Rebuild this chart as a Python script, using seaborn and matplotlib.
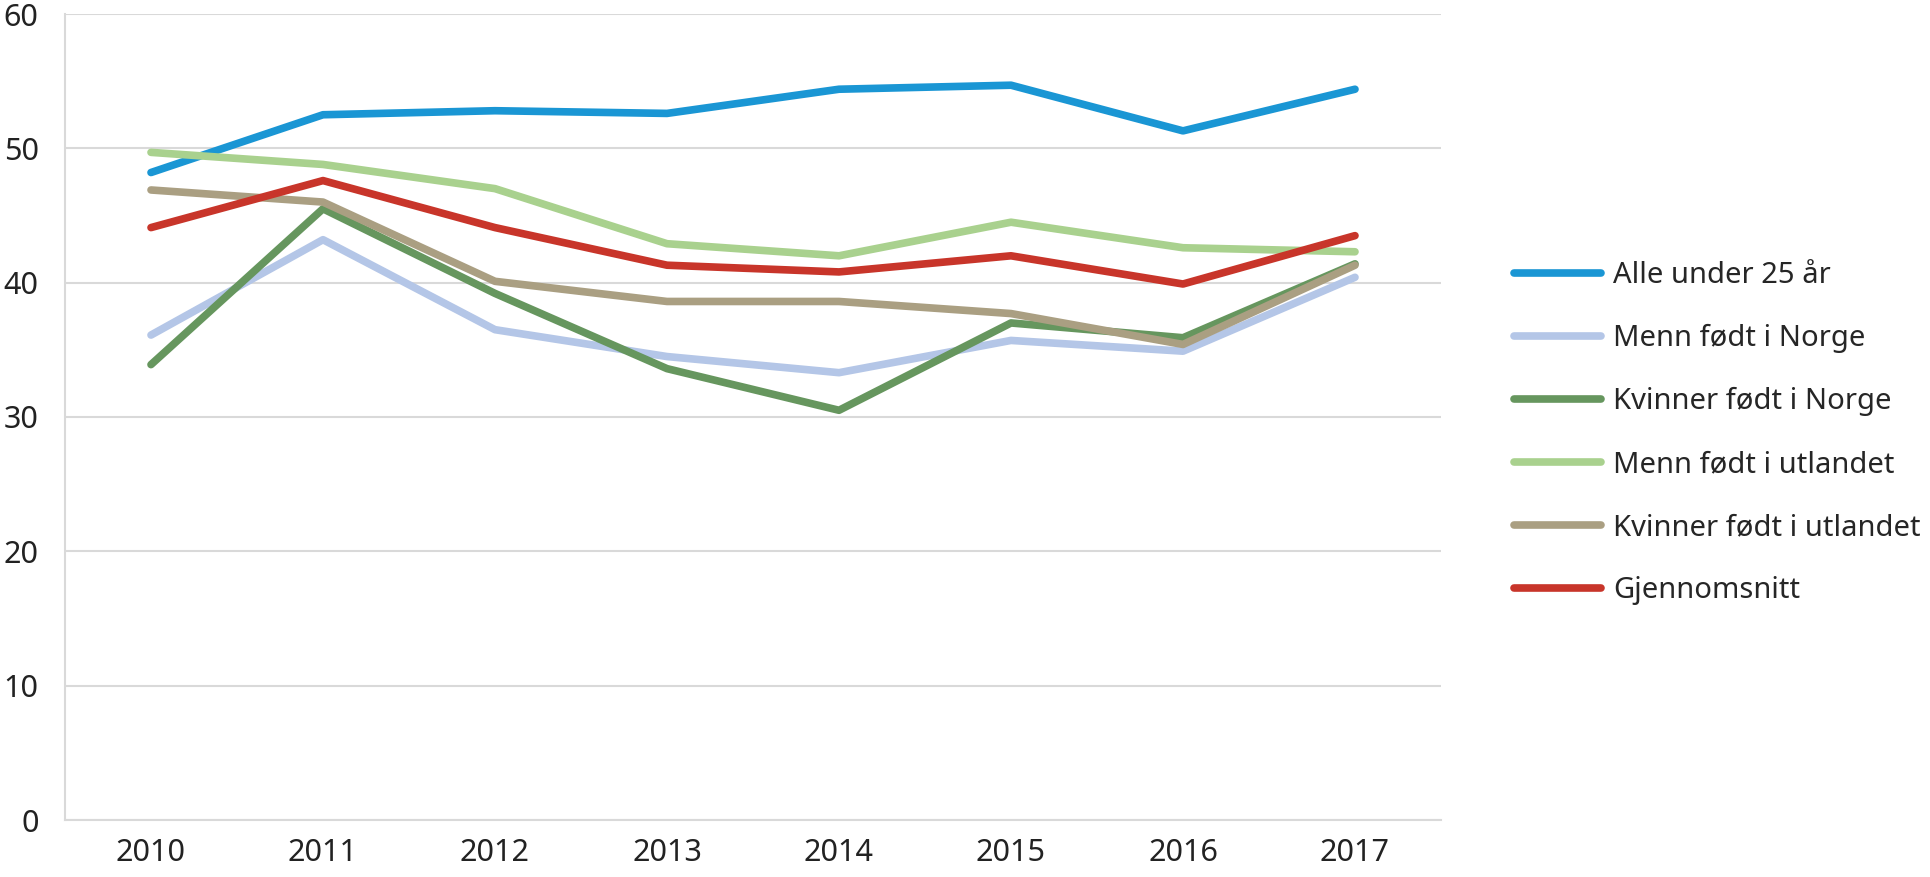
import pandas as pd
import matplotlib
matplotlib.use("Agg")
import matplotlib.pyplot as plt
from matplotlib.ticker import FixedLocator, MultipleLocator
import seaborn as sns

years = ['2010', '2011', '2012', '2013', '2014', '2015', '2016', '2017']
alle_under_25 = [48.2, 52.5, 52.8, 52.6, 54.4, 54.7, 51.3, 54.4]
menn_norge = [36.1, 43.2, 36.5, 34.5, 33.3, 35.7, 34.9, 40.4]
kvinner_norge = [33.9, 45.5, 39.2, 33.6, 30.5, 37.0, 35.9, 41.4]
menn_utland = [49.7, 48.8, 47.0, 42.9, 42.0, 44.5, 42.6, 42.3]
kvinner_utland = [46.9, 46.0, 40.1, 38.6, 38.6, 37.7, 35.4, 41.3]
gjennomsnitt = [44.1, 47.6, 44.1, 41.3, 40.8, 42.0, 39.9, 43.5]

series_names = ['Alle under 25 år', 'Menn født i Norge', 'Kvinner født i Norge',
                'Menn født i utlandet', 'Kvinner født i utlandet', 'Gjennomsnitt']
series_values = [alle_under_25, menn_norge, kvinner_norge,
                 menn_utland, kvinner_utland, gjennomsnitt]
colors = ['#1a96d4', '#b4c6e7', '#66965e', '#a9d18e', '#aa9f82', '#c8352a']

rows = []
for name, vals in zip(series_names, series_values):
    for yr, v in zip(years, vals):
        rows.append({'År': yr, 'Verdi': v, 'Gruppe': name})
df = pd.DataFrame(rows)

sns.set_theme(style="white")
plt.rcParams['font.family'] = ['Noto Sans', 'DejaVu Sans']

fig = plt.figure(figsize=(19.31, 8.77), dpi=100)
ax = fig.add_axes([65 / 1931, 1 - 820 / 877, (1441 - 65) / 1931, (820 - 14) / 877])

sns.lineplot(data=df, x='År', y='Verdi', hue='Gruppe', hue_order=series_names,
             palette=colors, linewidth=5.5, ax=ax, solid_capstyle='round',
             sort=False)

ax.set_xlim(-0.5, len(years) - 0.5)
ax.set_ylim(0, 60)
ax.yaxis.set_major_locator(MultipleLocator(10))
ax.grid(axis='y', color='#d9d9d9', linewidth=1.5)
ax.set_axisbelow(True)
ax.set_xlabel('')
ax.set_ylabel('')

for s in ['top', 'right']:
    ax.spines[s].set_visible(False)
for s in ['left', 'bottom']:
    ax.spines[s].set_color('#d9d9d9')
    ax.spines[s].set_linewidth(1.5)

ax.tick_params(axis='x', which='major', length=0, pad=13, labelsize=22, colors='#222222')
ax.xaxis.set_minor_locator(FixedLocator([i - 0.5 for i in range(len(years) + 1)]))
ax.tick_params(axis='x', which='minor', length=7, width=1.5, color='#d9d9d9', direction='out')
ax.tick_params(axis='y', which='major', length=7, width=1.5, color='#d9d9d9',
               pad=12, labelsize=22, labelcolor='#222222', direction='out')

handles, labels = ax.get_legend_handles_labels()
ax.get_legend().remove()
for h in handles:
    h.set_solid_capstyle('round')
fig.legend(handles, labels, loc='center left', bbox_to_anchor=(1514 / 1931, 1 - 433 / 877),
           frameon=False, fontsize=21, handlelength=3.0, handletextpad=0.4,
           labelspacing=1.16, borderpad=0, borderaxespad=0)

fig.savefig('out.png', dpi=100)
